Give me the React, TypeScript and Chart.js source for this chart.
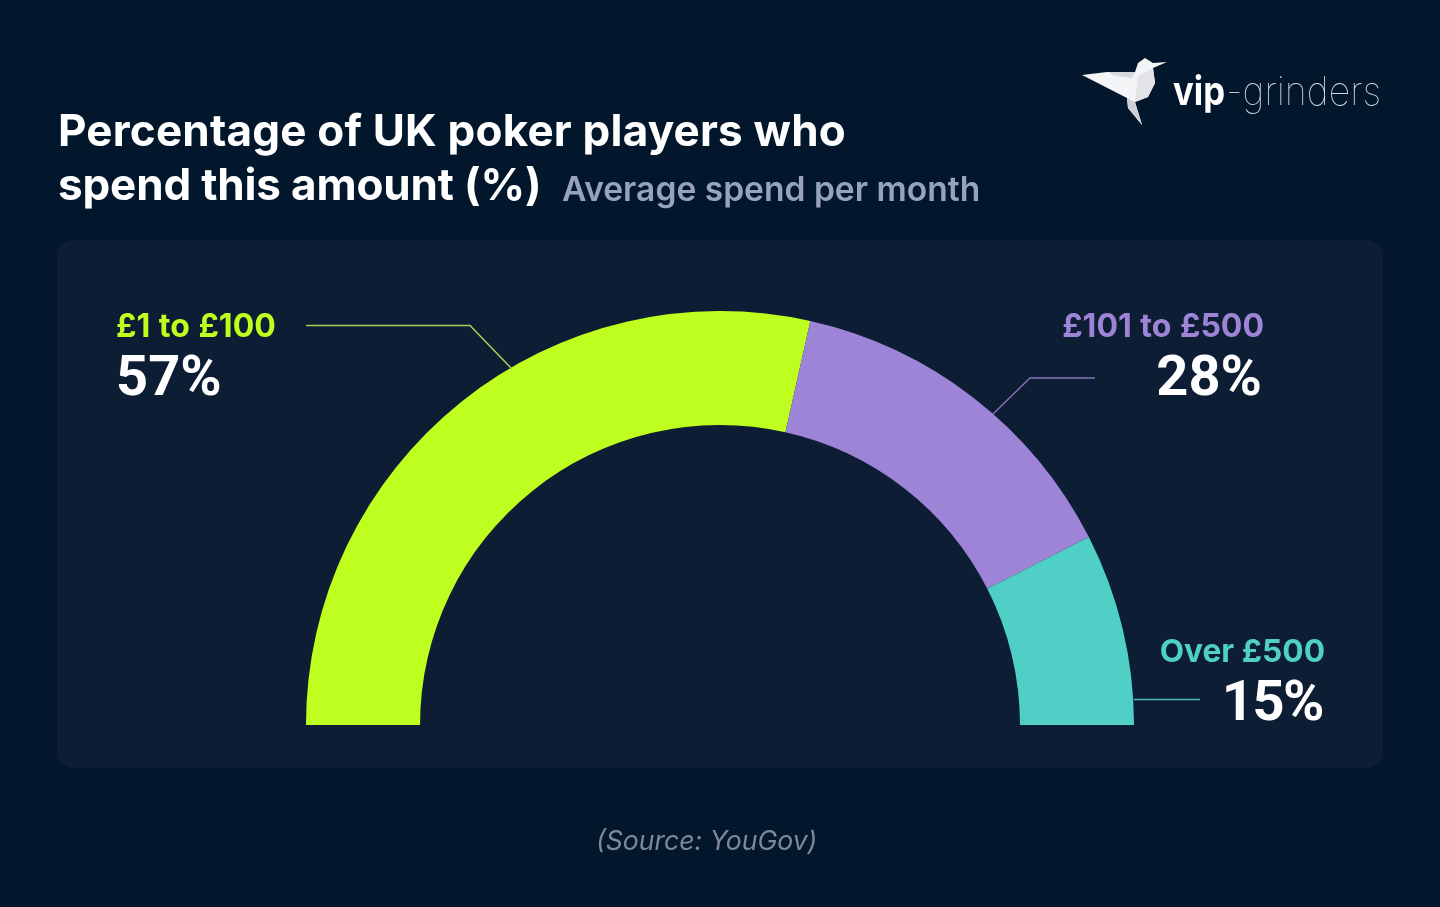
// App.tsx
import React, { useEffect, useRef } from 'react';
import Chart from 'chart.js/auto';

const categories = ['£1 to £100', '£101 to £500', 'Over £500'];
const shares = [57, 28, 15];
const shareLabels = ['57%', '28%', '15%'];
const colors = ['#BEFF1F', '#9E84D6', '#4FCFC5'];

// leader lines from the callouts to the arcs
const leaders = [
  { color: '#A5CF5A', width: 1.5, points: [[306, 325.5], [470, 325.5], [512, 369]] },
  { color: '#8874B8', width: 1.3, points: [[1095, 378], [1030, 378], [993, 414]] },
  { color: '#4DBDB5', width: 1.4, points: [[1134, 699.5], [1200, 699.5]] },
];

const leaderPlugin = {
  id: 'leaders',
  afterDraw(chart: any) {
    const ctx = chart.ctx;
    ctx.save();
    leaders.forEach(l => {
      ctx.strokeStyle = l.color;
      ctx.lineWidth = l.width;
      ctx.beginPath();
      l.points.forEach((p, i) => (i === 0 ? ctx.moveTo(p[0], p[1]) : ctx.lineTo(p[0], p[1])));
      ctx.stroke();
    });
    ctx.restore();
  },
};

const font = 'Inter, "Noto Sans", sans-serif';
const numFont = 'Roboto, Inter, sans-serif';

const abs = (left: number, top: number, size: number, color: string, weight: number, extra: React.CSSProperties = {}): React.CSSProperties => ({
  position: 'absolute',
  left,
  top,
  fontSize: size,
  color,
  fontWeight: weight,
  lineHeight: 1,
  whiteSpace: 'nowrap',
  ...extra,
});

const Logo = () => (
  <svg style={{ position: 'absolute', left: 1080, top: 56 }} width={304} height={72} viewBox="0 0 304 72">
    <polygon points="2,19 27,16 55,16 58,7 65,2 73,7 87,6 73,12 75,27 68,41 55,46 62,69 48,52 47,42" fill="#F4F5F6" />
    <polygon points="27,16 55,16 52,22 36,20" fill="#D6D9DD" />
    <polygon points="47,42 55,46 62,69 48,52" fill="#CDD0D5" />
    <polygon points="58,20 73,12 75,27 68,41 55,46" fill="#E2E4E7" />
    <text x={93} y={48.5} fontFamily={font} fontSize={40} fontWeight={700} fill="#FFFFFF" textLength={52} lengthAdjust="spacingAndGlyphs">vip</text>
    <text x={146} y={48.5} fontFamily={font} fontSize={40} fontWeight={100} fill="#D5D8DD" textLength={155} lengthAdjust="spacingAndGlyphs">-grinders</text>
  </svg>
);

export default function App() {
  const canvasRef = useRef<HTMLCanvasElement>(null);

  useEffect(() => {
    if (!canvasRef.current) return;
    const chart = new Chart(canvasRef.current, {
      type: 'doughnut',
      data: {
        labels: categories,
        datasets: [
          {
            data: shares,
            backgroundColor: colors,
            borderWidth: 0,
          },
        ],
      },
      options: {
        animation: false,
        responsive: false,
        rotation: -90,
        circumference: 180,
        cutout: '72.46%',
        layout: { padding: { left: 306, right: 306, top: 311, bottom: 182 } },
        plugins: {
          legend: { display: false },
          tooltip: { enabled: false },
        },
      },
      plugins: [leaderPlugin],
    });
    return () => chart.destroy();
  }, []);

  const pct = { fontFamily: numFont };
  const label = { wordSpacing: 1 };

  return (
    <div style={{ position: 'fixed', inset: 0, width: 1440, height: 907, background: '#02172B', fontFamily: font, overflow: 'hidden' }}>
      <div style={{ position: 'absolute', left: 57, top: 240, width: 1326, height: 528, borderRadius: 16, background: '#0D1D33' }} />
      <canvas ref={canvasRef} width={1440} height={907} style={{ position: 'absolute', left: 0, top: 0, width: 1440, height: 907 }} />

      <span style={abs(58, 108, 44, '#FFFFFF', 700, { letterSpacing: 0.2 })}>Percentage of UK poker players who</span>
      <span style={abs(58, 162, 44, '#FFFFFF', 700, { letterSpacing: -0.15 })}>spend this amount (%)</span>
      <span style={abs(562, 171.5, 33.6, '#98A2BF', 600)}>Average spend per month</span>
      <Logo />

      <span style={abs(116, 310, 32, colors[0], 700, label)}>{categories[0]}</span>
      <span style={abs(116, 348, 56, '#FFFFFF', 700, pct)}>{shareLabels[0]}</span>

      <span style={abs(0, 310, 32, colors[1], 700, { ...label, left: 'auto', right: 176 })}>{categories[1]}</span>
      <span style={abs(0, 348, 56, '#FFFFFF', 700, { ...pct, left: 'auto', right: 178 })}>{shareLabels[1]}</span>

      <span style={abs(0, 635, 31.7, colors[2], 700, { left: 'auto', right: 115 })}>{categories[2]}</span>
      <span style={abs(0, 673, 56, '#FFFFFF', 700, { ...pct, left: 'auto', right: 117, letterSpacing: -1.5 })}>{shareLabels[2]}</span>

      <span style={abs(596, 827, 26.6, '#7F8799', 400, { fontStyle: 'italic' })}>(Source: YouGov)</span>
    </div>
  );
}
